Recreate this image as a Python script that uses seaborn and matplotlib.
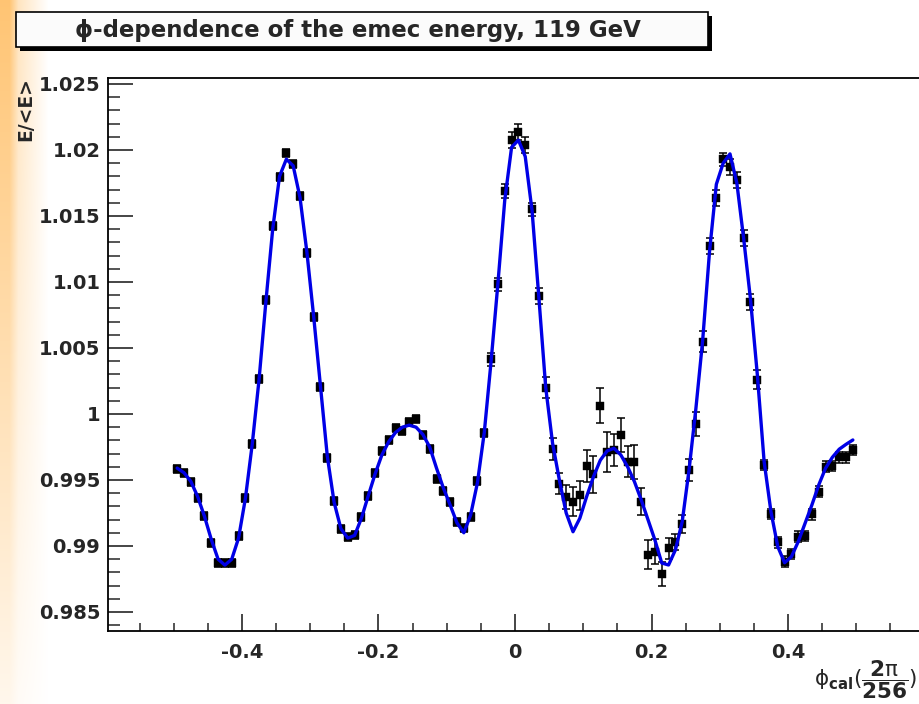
import numpy as np
import pandas as pd
import matplotlib
matplotlib.use("Agg")
import matplotlib.pyplot as plt
import seaborn as sns
from matplotlib.patches import Rectangle
from matplotlib.ticker import MultipleLocator

# ---------------- data ----------------
phi_cal = np.round(np.linspace(-0.495, 0.495, 100), 3)   # bin centres

ratio = [
    0.99583, 0.99551, 0.99487, 0.99361, 0.99227, 0.99025, 0.98869, 0.98869, 0.98869, 0.99076,
    0.99366, 0.99773, 1.00263, 1.00864, 1.01424, 1.01798, 1.01975, 1.01894, 1.01652, 1.01222,
    1.00737, 1.00207, 0.99664, 0.99343, 0.99127, 0.99066, 0.99083, 0.99222, 0.99381, 0.99551,
    0.99722, 0.99803, 0.99892, 0.99874, 0.99942, 0.99960, 0.99840, 0.99733, 0.99508, 0.99419,
    0.99336, 0.99184, 0.99134, 0.99217, 0.99492, 0.99854, 1.00414, 1.00983, 1.01689, 1.02076,
    1.02139, 1.02038, 1.01551, 1.00894, 1.00200, 0.99733, 0.99470, 0.99369, 0.99336, 0.99386,
    0.99606, 0.99545, 1.00063, 0.99710, 0.99727, 0.99841, 0.99639, 0.99634, 0.99336, 0.98932,
    0.98957, 0.98788, 0.98983, 0.99033, 0.99167, 0.99576, 0.99922, 1.00548, 1.01273, 1.01639,
    1.01930, 1.01869, 1.01773, 1.01331, 1.00851, 1.00260, 0.99614, 0.99242, 0.99028, 0.98881,
    0.98940, 0.99070, 0.99076, 0.99240, 0.99411, 0.99601, 0.99606, 0.99672, 0.99672, 0.99727,
]

ratio_err = [
    0.0003, 0.0003, 0.0003, 0.0003, 0.0003, 0.0003, 0.0003, 0.0003, 0.0003, 0.0003,
    0.0003, 0.0003, 0.0003, 0.0003, 0.0003, 0.0003, 0.0003, 0.0003, 0.0003, 0.0003,
    0.0003, 0.0003, 0.0003, 0.0003, 0.0003, 0.0003, 0.0003, 0.0003, 0.0003, 0.0003,
    0.0003, 0.0003, 0.0003, 0.0003, 0.0003, 0.0003, 0.0003, 0.0003, 0.0003, 0.0003,
    0.0003, 0.0003, 0.0003, 0.0003, 0.0003, 0.0003, 0.0005, 0.0005, 0.0005, 0.0006,
    0.0006, 0.0006, 0.0005, 0.0006, 0.0008, 0.00085, 0.0008, 0.0009, 0.0011, 0.0011,
    0.0012, 0.0014, 0.0013, 0.0015, 0.0012, 0.0013, 0.0012, 0.0013, 0.0010, 0.0011,
    0.00095, 0.0009, 0.0008, 0.0006, 0.0007, 0.0008, 0.0009, 0.0008, 0.0006, 0.0006,
    0.0005, 0.0006, 0.0006, 0.0006, 0.0006, 0.0007, 0.0004, 0.0004, 0.0004, 0.0004,
    0.0004, 0.0004, 0.0004, 0.0004, 0.0004, 0.0004, 0.0004, 0.0004, 0.0004, 0.0004,
]

fit_curve = [
    0.99590, 0.99555, 0.99490, 0.99375, 0.99225, 0.99050, 0.98900, 0.98855, 0.98900, 0.99060,
    0.99360, 0.99770, 1.00260, 1.00850, 1.01400, 1.01800, 1.01930, 1.01880, 1.01640, 1.01230,
    1.00740, 1.00210, 0.99680, 0.99330, 0.99130, 0.99060, 0.99080, 0.99210, 0.99380, 0.99545,
    0.99690, 0.99790, 0.99860, 0.99900, 0.99915, 0.99900, 0.99845, 0.99750, 0.99590, 0.99440,
    0.99310, 0.99175, 0.99100, 0.99235, 0.99480, 0.99860, 1.00400, 1.00990, 1.01620, 1.02020,
    1.02075, 1.01950, 1.01540, 1.00880, 1.00200, 0.99780, 0.99500, 0.99250, 0.99108, 0.99210,
    0.99375, 0.99525, 0.99650, 0.99720, 0.99740, 0.99690, 0.99600, 0.99487, 0.99348, 0.99197,
    0.99045, 0.98871, 0.98856, 0.98970, 0.99184, 0.99576, 1.00040, 1.00560, 1.01230, 1.01740,
    1.01900, 1.01970, 1.01750, 1.01330, 1.00870, 1.00300, 0.99639, 0.99260, 0.98995, 0.98873,
    0.98919, 0.99033, 0.99172, 0.99311, 0.99462, 0.99589, 0.99672, 0.99733, 0.99770, 0.99803,
]

xticks = [-0.4, -0.2, 0.0, 0.2, 0.4]
xtick_labels = ["-0.4", "-0.2", "0", "0.2", "0.4"]
yticks = [0.985, 0.99, 0.995, 1.0, 1.005, 1.01, 1.015, 1.02, 1.025]
ytick_labels = ["0.985", "0.99", "0.995", "1", "1.005", "1.01", "1.015", "1.02", "1.025"]

title_text = "\u03d5-dependence of the emec energy, 119 GeV"
ylabel_text = "E/<E>"
xlabel_text = r"$\phi_{\mathbf{cal}}(\dfrac{\mathbf{2}\pi}{\mathbf{256}})$"

df = pd.DataFrame({"phi": phi_cal, "ratio": ratio, "err": ratio_err, "fit": fit_curve})

# ---------------- style ----------------
sns.set_style("white")
plt.rcParams["font.family"] = ["DejaVu Sans"]
plt.rcParams["mathtext.fontset"] = "custom"
plt.rcParams["mathtext.rm"] = "DejaVu Sans"
plt.rcParams["mathtext.it"] = "DejaVu Sans"
plt.rcParams["mathtext.bf"] = "DejaVu Sans:bold"

W, H = 920, 704
fig = plt.figure(figsize=(W / 100, H / 100), dpi=100)
fig.patch.set_facecolor("white")

# left orange gradient strip
bg = fig.add_axes([0, 0, 1, 1], zorder=-10)
bg.axis("off")
xs = np.arange(W)[None, :]
ys = np.arange(H)[:, None]
ax_alpha = np.where(xs < 9, 1.0,
                    np.where(xs < 18, 1.0 - (xs - 9) / 9 * 0.55,
                             np.clip(0.45 * (1 - (xs - 18) / 30), 0, None)))
ay_alpha = 0.9 - 0.78 * (ys / H)
alpha = ax_alpha * ay_alpha
orange = np.array([255, 190, 100]) / 255.0
img = 1 - alpha[..., None] * (1 - orange[None, None, :])
bg.imshow(img, extent=[0, W, H, 0], aspect="auto", interpolation="bilinear")
bg.set_xlim(0, W)
bg.set_ylim(H, 0)

# main axes (frame extends past the right edge, as in the reference)
left_px, right_px, top_px, bottom_px = 108, 925, 78, 631
ax = fig.add_axes([left_px / W, 1 - bottom_px / H,
                   (right_px - left_px) / W, (bottom_px - top_px) / H])
ax.set_facecolor("white")

ax.errorbar(df["phi"], df["ratio"], yerr=df["err"], fmt="none",
            ecolor="black", elinewidth=1.1, capsize=2.8, capthick=1.1, zorder=2)
sns.scatterplot(data=df, x="phi", y="ratio", marker="s", s=28, color="black",
                edgecolor="black", linewidth=0.3, ax=ax, zorder=3)
sns.lineplot(data=df, x="phi", y="fit", color="#0000e6", linewidth=2.4,
             sort=False, estimator=None, ax=ax, zorder=4)

ax.set_xlim(-0.5963, 0.6007)
ax.set_ylim(0.98356, 1.02545)
ax.set_xlabel("")
ax.set_ylabel("")

for s in ["top", "left", "bottom"]:
    ax.spines[s].set_visible(True)
    ax.spines[s].set_color("black")
    ax.spines[s].set_linewidth(1.3)
ax.spines["right"].set_visible(False)

ax.set_xticks(xticks, labels=xtick_labels, fontweight="bold", fontsize=14)
ax.set_yticks(yticks, labels=ytick_labels, fontweight="bold", fontsize=14)
ax.xaxis.set_minor_locator(MultipleLocator(0.05))
ax.yaxis.set_minor_locator(MultipleLocator(0.001))
ax.tick_params(axis="y", which="major", direction="in", length=18, width=1.2,
               pad=5.5, left=True, right=False)
ax.tick_params(axis="y", which="minor", direction="in", length=8.6, width=1.1,
               left=True, right=False)
ax.tick_params(axis="x", which="major", direction="in", length=12, width=1.2,
               pad=8.5, bottom=True, top=False)
ax.tick_params(axis="x", which="minor", direction="in", length=6, width=1.1,
               bottom=True, top=False)

# axis titles (ROOT style placement)
fig.text(26 / W, 1 - 77 / H, ylabel_text, rotation=90, ha="center", va="top",
         fontsize=13.5, fontweight="bold")
fig.text(918 / W, 3 / H, xlabel_text, ha="right", va="bottom", fontsize=15.5)

# title box with shadow
bx0, by0, bx1, by1 = 16, 12, 708, 47
sh = 4
fig.patches.append(Rectangle(((bx0 + sh) / W, 1 - (by1 + sh) / H),
                             (bx1 - bx0) / W, (by1 - by0) / H,
                             transform=fig.transFigure, facecolor="black",
                             edgecolor="none", zorder=5))
fig.patches.append(Rectangle((bx0 / W, 1 - by1 / H),
                             (bx1 - bx0) / W, (by1 - by0) / H,
                             transform=fig.transFigure, facecolor="#fbfbfb",
                             edgecolor="black", linewidth=1.2, zorder=6))
fig.text(358 / W, 1 - 30 / H, title_text, ha="center", va="center",
         fontsize=16.5, fontweight="bold", zorder=7)

fig.savefig("out.png", dpi=100)
